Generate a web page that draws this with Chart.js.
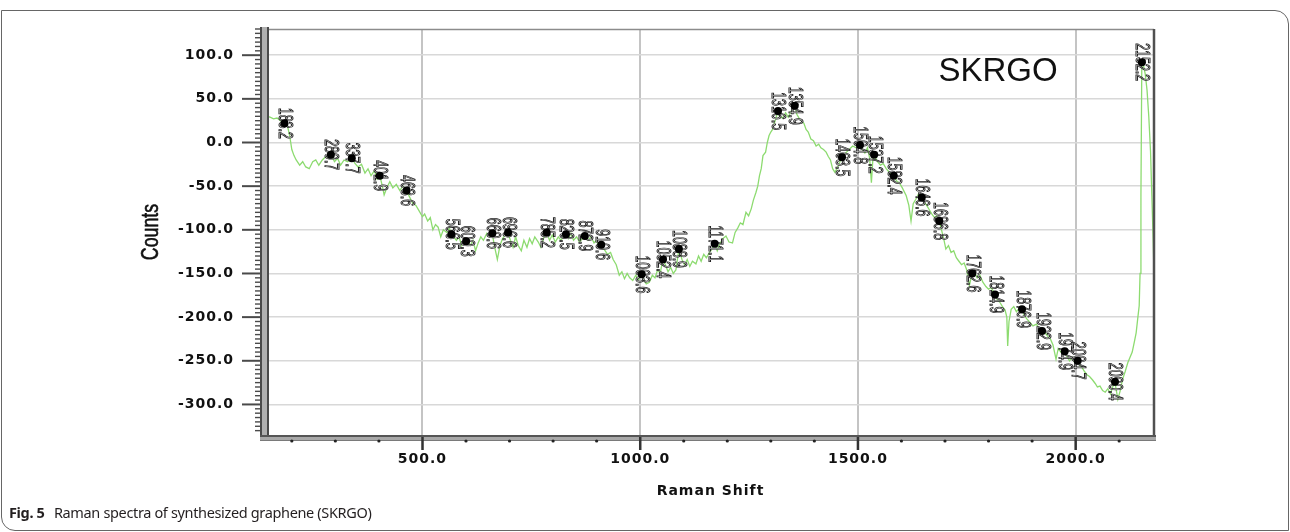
<!DOCTYPE html>
<html><head><meta charset="utf-8">
<script src="https://cdn.jsdelivr.net/npm/chart.js@4.4.1/dist/chart.umd.min.js"></script>
<style>
html,body{margin:0;padding:0;background:#fff;}
#wrap{position:relative;width:1290px;height:532px;overflow:hidden;background:#fff;}
#frame{position:absolute;left:1px;top:10px;width:1288px;height:521px;border:1px solid #666;box-sizing:border-box;border-top-right-radius:14px;border-bottom-left-radius:14px;}
#cap{position:absolute;left:9px;top:504px;font-family:"Noto Sans","Open Sans",sans-serif;font-size:14.5px;line-height:17px;color:#231f20;white-space:nowrap;letter-spacing:-0.35px;}
#cap b{font-weight:bold;margin-right:6px;}
canvas{position:absolute;left:0;top:0;}
</style></head>
<body><div id="wrap"><div id="frame"></div><canvas id="c" width="1290" height="532"></canvas>
<div id="cap"><b>Fig. 5</b> Raman spectra of synthesized graphene (SKRGO)</div></div>
<script>
// ---- data ----
const ramanShift = [143,150,158,166,174,183,190,195,200,205,210,218,225,232,240,248,255,262,270,278,284,290,298,305,312,320,328,338,345,352,360,368,375,382,390,396,402,408,412,418,425,432,440,448,455,464,470,478,485,492,500,
505,512,518,524,530,536,542,548,556,562,566,572,578,584,590,597,603,610,616,622,628,634,640,648,654,660,666,672,678,684,690,696,702,708,714,720,727,733,740,746,752,758,766,772,778,785,792,798,805,812,818,823,829,835,841,847,854,861,867,873,880,887,894,900,905,910,917,925,932,938,945,952,958,964,970,976,983,990,996,
1004,1009,1014,1021,1028,1034,1040,1046,1052,1058,1064,1070,1076,1082,1089,1096,1102,1108,1114,1120,1128,1134,1140,1146,1152,1159,1165,1171,1177,1183,1190,1197,1204,1212,1218,1224,1230,1236,1243,1249,1255,1260,1266,1270,1274,1278,1282,1288,1292,1296,1300,1304,1308,1312,1316,1320,1327,1334,1340,1347,1355,1360,1365,1370,1376,1381,1386,1392,1398,1404,1410,1415,1421,1427,1432,1437,1442,1447,1452,1457,1463,1468,1474,1480,1488,1496,
1505,1510,1516,1522,1527,1531,1534,1537,1545,1552,1558,1565,1572,1577,1582,1589,1595,1602,1611,1617,1622,1627,1633,1640,1647,1652,1658,1664,1670,1676,1681,1687,1692,1697,1702,1708,1714,1720,1726,1732,1738,1744,1750,1756,1762,1768,1774,1780,1787,1794,1800,1806,1815,1820,1826,1832,1838,1842,1844,1847,1852,1858,1864,1870,1877,1882,1888,1895,1902,1910,1917,1923,1930,1936,1942,1948,1955,1960,1966,1975,1980,1986,1992,1998,
2005,2010,2015,2020,2026,2032,2039,2045,2050,2056,2062,2068,2074,2080,2085,2090,2097,2102,2108,2114,2120,2125,2130,2135,2139,2143,2146,2148,2150,2152,2156,2160,2164,2168,2172,2175,2178,2180];
const counts = [30,29,27,28,25,22,19,8,-8,-15,-20,-26,-22,-28,-30,-22,-20,-26,-20,-16,-18,-14,-22,-18,-26,-20,-22,-18,-24,-28,-25,-35,-30,-38,-32,-42,-38,-50,-60,-52,-45,-52,-48,-55,-50,-55,-62,-70,-72,-78,-85,
-82,-90,-86,-100,-94,-97,-108,-100,-103,-98,-105,-108,-112,-108,-118,-110,-113,-118,-112,-124,-115,-108,-112,-104,-108,-104,-120,-134,-118,-110,-106,-103,-112,-120,-108,-118,-124,-112,-120,-110,-116,-108,-114,-120,-110,-103,-112,-106,-114,-108,-112,-108,-105,-110,-104,-112,-108,-114,-110,-107,-112,-108,-115,-112,-120,-117,-122,-128,-126,-134,-140,-152,-148,-156,-150,-155,-158,-152,-157,
-151,-158,-162,-160,-152,-155,-146,-150,-134,-140,-148,-143,-150,-146,-122,-134,-140,-134,-142,-136,-139,-130,-136,-128,-132,-126,-122,-116,-124,-116,-110,-107,-114,-115,-103,-98,-92,-94,-80,-84,-76,-66,-57,-50,-38,-30,-15,-11,0,8,12,15,22,28,36,30,28,34,29,36,42,32,28,25,22,15,12,4,2,-4,-2,-6,-8,-11,-16,-20,-30,-34,-30,-24,-17,-14,-11,-8,-4,-6,
-3,-8,-12,-6,-18,-46,-22,-14,-22,-26,-24,-30,-34,-36,-38,-44,-46,-52,-61,-72,-90,-70,-65,-58,-63,-68,-72,-77,-82,-86,-84,-90,-100,-110,-122,-118,-126,-124,-132,-136,-140,-138,-146,-164,-150,-149,-155,-152,-160,-165,-168,-166,-174,-180,-183,-188,-192,-200,-233,-205,-191,-188,-194,-190,-191,-198,-202,-206,-210,-208,-214,-216,-218,-222,-225,-232,-248,-236,-240,-239,-245,-250,-246,-252,
-250,-256,-258,-262,-266,-268,-272,-276,-280,-279,-284,-286,-282,-288,-280,-274,-294,-285,-271,-262,-252,-246,-240,-228,-218,-200,-187,-150,-60,92,88,78,60,30,-10,-60,-110,-150];
const peakShift  = [183.2,289.7,337.7,401.9,463.6,566.5,600.3,660.6,696.6,785.2,829.5,872.9,910.6,1003.6,1052.4,1088.9,1171.1,1316.5,1354.9,1463.5,1504.8,1537.2,1582.4,1646.6,1686.8,1762.6,1814.9,1876.9,1922.9,1974.9,2004.7,2090.4,2152.2];
const peakCounts = [22,-14,-18,-38,-55,-105,-113,-104,-103,-103,-105,-107,-117,-151,-134,-122,-116,36,42,-17,-3,-14,-38,-63,-90,-150,-174,-191,-216,-239,-250,-274,92];
const peakLabels = ["183.2","289.7","337.7","401.9","463.6","566.5","600.3","660.6","696.6","785.2","829.5","872.9","910.6","1003.6","1052.4","1088.9","1171.1","1316.5","1354.9","1463.5","1504.8","1537.2","1582.4","1646.6","1686.8","1762.6","1814.9","1876.9","1922.9","1974.9","2004.7","2090.4","2152.2"];
const yTickValues = [-300,-250,-200,-150,-100,-50,0,50,100];
const xTickValues = [500,1000,1500,2000];
const xRange = [143,2180];
const yRange = [-335,130];
const sampleName = "SKRGO";
const yTitle = "Counts";

// ---- plugins ----
const spacing = {id:'spacing', beforeDraw(chart){ chart.ctx.letterSpacing = '1px'; }};

const peakLabelPlugin = {
  id:'peakLabels',
  beforeDatasetDraw(chart,args){
    if(args.index!==1) return;
    const ctx = chart.ctx, meta = chart.getDatasetMeta(1);
    ctx.save();
    ctx.letterSpacing='0px';
    meta.data.forEach((pt,i)=>{
      ctx.save();
      ctx.translate(pt.x, pt.y);
      ctx.rotate(Math.PI/2);
      ctx.scale(0.62,1);
      ctx.font='20px "Liberation Sans", Arial, sans-serif';
      ctx.textAlign='center'; ctx.textBaseline='middle';
      ctx.fillStyle='#ffffff';
      ctx.fillText(peakLabels[i],0,0);
      ctx.strokeStyle='#202020'; ctx.lineWidth=1.0;
      ctx.strokeText(peakLabels[i],0,0);
      ctx.restore();
    });
    ctx.restore();
  }
};

const axisDeco = {
  id:'axisDeco',
  afterDraw(chart){
    const {ctx, chartArea:a, scales:{x,y}} = chart;
    ctx.save();
    ctx.letterSpacing='0px';
    // top border
    ctx.strokeStyle='#8c8c8c'; ctx.lineWidth=1.5;
    ctx.beginPath(); ctx.moveTo(a.left, a.top+0.5); ctx.lineTo(a.right, a.top+0.5); ctx.stroke();
    // right border
    ctx.strokeStyle='#505050'; ctx.lineWidth=2.5;
    ctx.beginPath(); ctx.moveTo(a.right, a.top); ctx.lineTo(a.right, a.bottom+4); ctx.stroke();
    // left axis (double line)
    const h = a.bottom - a.top + 5;
    ctx.fillStyle='#b0b0b0'; ctx.fillRect(a.left-7, a.top-2, 9, h);
    ctx.fillStyle='#4a4a4a'; ctx.fillRect(a.left-7, a.top-2, 2, h); ctx.fillRect(a.left, a.top-2, 2, h);
    // y ticks
    ctx.strokeStyle='#4a4a4a';
    for(let v=-330; v<=130; v+=5){
      const py = y.getPixelForValue(v);
      if(py < a.top || py > a.bottom) continue;
      const major = v % 50 === 0;
      ctx.lineWidth = major ? 2 : 1.4;
      ctx.beginPath(); ctx.moveTo(major ? a.left-25 : a.left-12, py); ctx.lineTo(a.left-7, py); ctx.stroke();
    }
    // bottom axis band
    ctx.fillStyle='#a8a8a8'; ctx.fillRect(a.left-7, a.bottom, a.right-a.left+9, 6);
    ctx.fillStyle='#555'; ctx.fillRect(a.left-7, a.bottom, a.right-a.left+9, 2);
    ctx.fillStyle='#7a7a7a'; ctx.fillRect(a.left-7, a.bottom+5, a.right-a.left+9, 1);
    // x minor dots and major ticks
    for(let v=200; v<=2100; v+=100){
      const px = x.getPixelForValue(v);
      if(v % 500 === 0){
        ctx.fillStyle='#333'; ctx.fillRect(px-1.2, a.bottom+2, 2.5, 13);
      } else {
        ctx.fillStyle='#222'; ctx.beginPath(); ctx.arc(px, a.bottom+6, 1.6, 0, Math.PI*2); ctx.fill();
      }
    }
    // y axis title (condensed)
    ctx.save();
    ctx.translate(151, (a.top + a.bottom)/2);
    ctx.rotate(-Math.PI/2);
    ctx.scale(0.74,1);
    ctx.font='24px "Liberation Sans", Arial, sans-serif';
    ctx.fillStyle='#111'; ctx.strokeStyle='#111'; ctx.lineWidth=0.6;
    ctx.textAlign='center'; ctx.textBaseline='middle';
    ctx.fillText(yTitle,0,0); ctx.strokeText(yTitle,0,0);
    ctx.restore();
    // sample name
    ctx.fillStyle='#111';
    ctx.font='33px "Liberation Sans", Arial, sans-serif';
    ctx.textAlign='left'; ctx.textBaseline='alphabetic';
    ctx.fillText(sampleName, x.getPixelForValue(1685), y.getPixelForValue(70));
    ctx.restore();
  }
};

const tickFont = {family:'"DejaVu Sans", sans-serif', weight:'bold', size:14};
const zeroPad = s=>{ s.paddingTop=0; s.paddingBottom=0; s.paddingLeft=0; s.paddingRight=0; };

new Chart(document.getElementById('c'), {
  type:'line',
  data:{
    datasets:[
      {data: ramanShift.map((v,i)=>({x:v, y:counts[i]})), borderColor:'#8ddb70', borderWidth:1.3, pointRadius:0, tension:0, order:2},
      {type:'scatter', data: peakShift.map((v,i)=>({x:v, y:peakCounts[i]})), showLine:false, pointRadius:4, pointBackgroundColor:'#000', pointBorderColor:'#000', pointBorderWidth:0, order:1}
    ]
  },
  options:{
    responsive:false, animation:false, devicePixelRatio:1,
    layout:{padding:{left:0, right:136, top:29, bottom:0}},
    plugins:{legend:{display:false}, tooltip:{enabled:false}},
    scales:{
      x:{type:'linear', min:xRange[0], max:xRange[1],
        afterBuildTicks:s=>{ s.ticks = xTickValues.map(v=>({value:v})); },
        afterFit:s=>{ s.height = 97; zeroPad(s); },
        grid:{color:'#c4c4c4', lineWidth:2, drawTicks:false},
        border:{display:false},
        ticks:{padding:16, color:'#111', font:tickFont, autoSkip:false, maxRotation:0, callback:v=>Number(v).toFixed(1)},
        title:{display:true, text:'Raman Shift', color:'#111', font:{family:'"DejaVu Sans", sans-serif', weight:'bold', size:14}, padding:{top:0, bottom:32}}
      },
      y:{type:'linear', min:yRange[0], max:yRange[1],
        afterBuildTicks:s=>{ s.ticks = yTickValues.map(v=>({value:v})); },
        afterFit:s=>{ s.width = 267; zeroPad(s); },
        grid:{color:'#d8d8d8', lineWidth:1.5, drawTicks:false},
        border:{display:false},
        ticks:{padding:33, color:'#111', font:tickFont, autoSkip:false, callback:v=>Number(v).toFixed(1)},
        title:{display:false}
      }
    }
  },
  plugins:[spacing, peakLabelPlugin, axisDeco]
});
</script></body></html>
